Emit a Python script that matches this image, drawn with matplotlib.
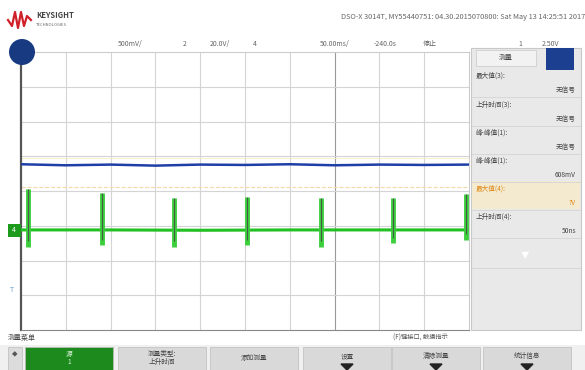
import matplotlib
matplotlib.use("Agg")
import matplotlib.pyplot as plt
from matplotlib.patches import Rectangle, Circle, Polygon

plt.rcParams['font.family'] = ['Noto Sans CJK SC', 'DejaVu Sans']

# Time axis in ms (50 ms/div, 10 divisions), vertical axis in divisions
blue_t = [0, 50, 100, 150, 200, 250, 300, 350, 400, 450, 500]
blue_v = [0.77, 0.74, 0.76, 0.73, 0.76, 0.75, 0.77, 0.74, 0.76, 0.75, 0.76]

green_t = [0, 100, 200, 300, 400, 500]
green_v = [-1.12, -1.12, -1.13, -1.12, -1.12, -1.12]

spike_t = [8, 90, 171, 252, 335, 415, 497]
spike_top = [0.05, -0.05, -0.2, -0.18, -0.2, -0.2, -0.1]
spike_bot = [-1.6, -1.55, -1.6, -1.55, -1.6, -1.5, -1.4]

trigger_level = 0.12

header = "DSO-X 3014T, MY55440751: 04.30.2015070800: Sat May 13 14:25:51 2017"
meas_labels = ["最大值(3):", "上升时间(3):", "峰-峰值(1):", "峰-峰值(1):", "最大值(4):", "上升时间(4):"]
meas_values = ["无信号", "无信号", "无信号", "608mV", "?V", "50ns"]
buttons = ["源\n1", "测量类型:\n上升时间", "添加测量", "设置", "清除测量", "统计信息"]

fig = plt.figure(figsize=(5.85, 3.7), dpi=100)
fig.patch.set_facecolor("white")

# oscilloscope graticule
ax = fig.add_axes([21 / 585, 1 - 330 / 370, 448 / 585, 278 / 370])
ax.set_zorder(1)
ax.set_xlim(0, 500)
ax.set_ylim(-4, 4)
ax.set_facecolor("white")
for k in range(1, 10):
    ax.axvline(k * 50, color="#9a9a9a" if k == 7 else "#d4d4d4", lw=0.8, zorder=0)
for k in range(-3, 4):
    ax.axhline(k, color="#d4d4d4", lw=0.8, zorder=0)
ax.axhline(trigger_level, color="#f5d9a8", lw=0.8, ls="--", zorder=1)
ax.axhline(0.95, color="#f5efc0", lw=0.6, zorder=1)

ax.plot(blue_t, blue_v, color="#1f3fa8", lw=1.8, zorder=3)
ax.plot(green_t, green_v, color="#22c022", lw=2.2, zorder=3)
ax.vlines(spike_t, spike_bot, spike_top, color="#3ccf3c", lw=3.5, zorder=4)
ax.vlines(spike_t, [b + 0.15 for b in spike_bot], spike_top, color="#4a5a4a", lw=0.8, zorder=5)
ax.set_xticks([])
ax.set_yticks([])
for side in ["top", "right"]:
    ax.spines[side].set_color("#cccccc")
ax.spines["bottom"].set_color("#888888")
ax.spines["left"].set_color("#555555")
ax.spines["left"].set_linewidth(1.6)

# overlay in pixel coordinates for the instrument frame
ov = fig.add_axes([0, 0, 1, 1])
ov.set_zorder(2)
ov.patch.set_alpha(0)
ov.set_xlim(0, 585)
ov.set_ylim(370, 0)
ov.axis("off")

# logo
ov.plot([8, 12, 15, 18, 21, 24, 27, 31], [20, 26, 12, 28, 12, 26, 16, 20], color="#d0202a", lw=1.6)
ov.text(36, 16, "KEYSIGHT", fontsize=5.5, color="#444444", fontweight="bold", va="center")
ov.text(36, 25, "TECHNOLOGIES", fontsize=3, color="#666666", va="center")
ov.text(585, 17, header, fontsize=5.3, color="#666666", ha="right", va="center")

# channel / timebase line
for x, s in [(130, "500mV/"), (185, "2"), (220, "20.0V/"), (255, "4"), (335, "50.00ms/"),
             (385, "-240.0s"), (430, "停止"), (520, "1"), (550, "2.50V")]:
    ov.text(x, 44, s, fontsize=5, color="#666666", ha="center", va="center")

# right measurement panel
ov.add_patch(Rectangle((471, 48), 110, 282, facecolor="#e9e9e9", edgecolor="#c8c8c8", lw=0.8))
ov.add_patch(Rectangle((476, 50), 60, 16, facecolor="#f2f2f2", edgecolor="#cfcfcf", lw=0.6))
ov.text(506, 58, "测量", fontsize=5, color="#444444", ha="center", va="center")
ov.add_patch(Rectangle((546, 48), 28, 22, facecolor="#1d3f8f", edgecolor="none"))
row_y = [76, 105, 133, 161, 189, 217]
for i, (lab, val) in enumerate(zip(meas_labels, meas_values)):
    y = row_y[i]
    col = "#e08a1a" if i == 4 else "#444444"
    if i == 4:
        ov.add_patch(Rectangle((472, y - 8), 108, 28, facecolor="#f3ead0", edgecolor="none"))
    ov.text(476, y, lab, fontsize=4.8, color=col, va="center")
    ov.text(576, y + 14, val, fontsize=4.8, color=col, ha="right", va="center")
    ov.plot([472, 580], [y + 21, y + 21], color="#d4d4d4", lw=0.6)
ov.text(525, 255, "▼", fontsize=6, color="#ffffff", ha="center", va="center")
ov.plot([472, 580], [268, 268], color="#d4d4d4", lw=0.6)

# bottom menu
ov.text(8, 338, "测量菜单", fontsize=5, color="#444444", va="center")
ov.text(420, 338, "(F)键接口, 触摸指示", fontsize=4.5, color="#555555", ha="center", va="center")
ov.add_patch(Rectangle((0, 345), 585, 25, facecolor="#f0f0f0", edgecolor="none"))
ov.add_patch(Rectangle((8, 347), 14, 23, facecolor="#dcdcdc", edgecolor="#bbbbbb", lw=0.5))
ov.text(15, 355, "◆", fontsize=4, color="#555555", ha="center", va="center")
bx = [25, 118, 210, 303, 392, 483]
for i, (x, lab) in enumerate(zip(bx, buttons)):
    fc = "#1c8a1c" if i == 0 else "#d9d9d9"
    tc = "#d8f0d8" if i == 0 else "#444444"
    ov.add_patch(Rectangle((x, 347), 88, 23, facecolor=fc, edgecolor="#bdbdbd", lw=0.5))
    ov.text(x + 44, 356 if i >= 3 else 358, lab, fontsize=4.8, color=tc, ha="center", va="center",
            linespacing=1.1)
    if i >= 3:
        ov.add_patch(Polygon([[x + 38, 364], [x + 50, 364], [x + 44, 370]], color="#222222"))

# channel markers on the frame
ov.add_patch(Circle((22, 52), 13, facecolor="#173a80", edgecolor="none", zorder=10))
ov.add_patch(Rectangle((8, 224), 13, 13, facecolor="#1c9a1c", edgecolor="none", zorder=10))
ov.text(14, 230, "4", fontsize=5, color="white", ha="center", va="center", zorder=11)
ov.text(12, 290, "T", fontsize=5, color="#6aa0d0", ha="center", va="center", zorder=11)

fig.savefig("out.png", dpi=100)
